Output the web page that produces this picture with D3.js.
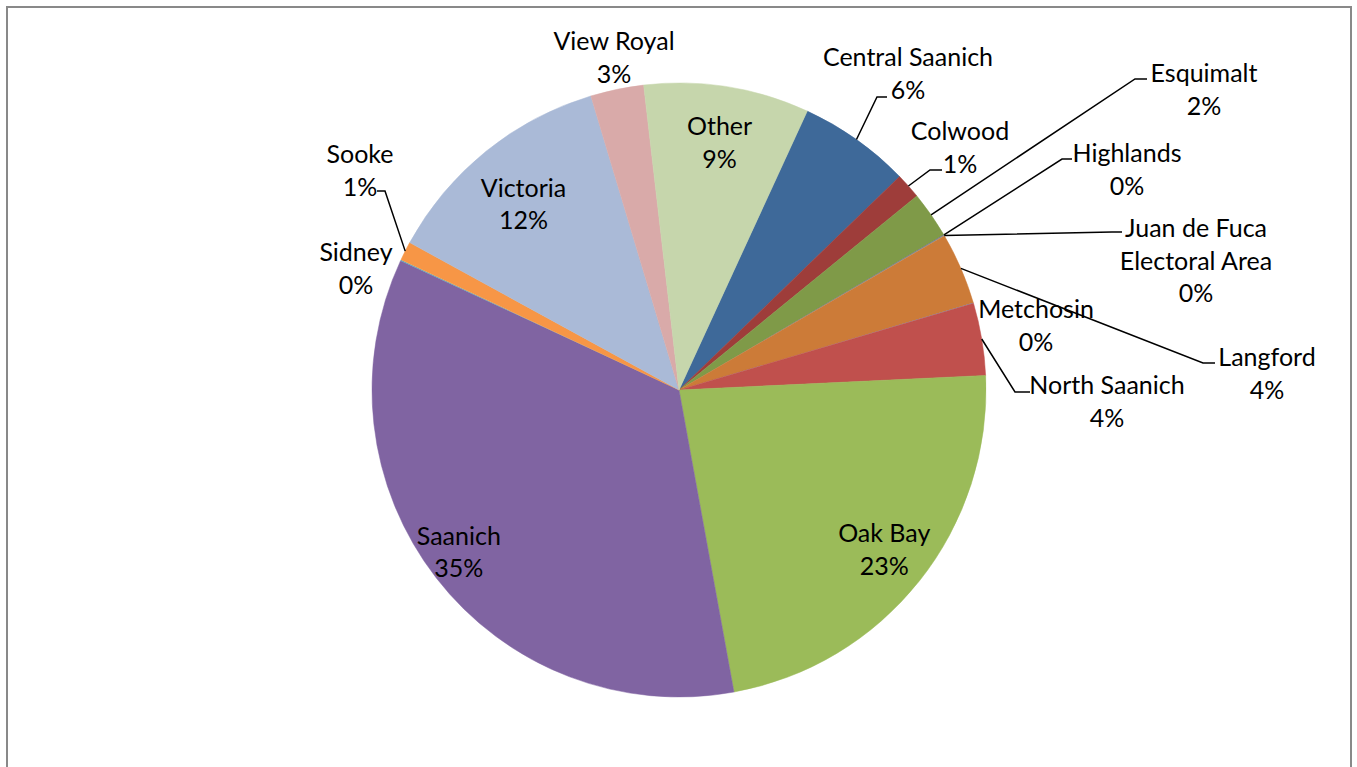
<!DOCTYPE html>
<html>
<head>
<meta charset="utf-8">
<script src="https://cdn.jsdelivr.net/npm/d3@7"></script>
<style>
  html, body { margin: 0; padding: 0; background: #ffffff; }
  svg { display: block; }
  text { font-family: Lato, "Open Sans", sans-serif; fill: #000; }
</style>
</head>
<body>
<svg id="chart" width="1357" height="767"></svg>
<script>
// ---- data (percent share per municipality) ----
const categories = ["Central Saanich", "Colwood", "Esquimalt", "Highlands", "Juan de Fuca Electoral Area",
  "Langford", "Metchosin", "North Saanich", "Oak Bay", "Saanich", "Sidney", "Sooke", "Victoria", "View Royal", "Other"];
const values = [5.9, 1.35, 2.45, 0.03, 0.03, 3.8, 0.03, 3.8, 22.9, 34.8, 0.05, 1.0, 12.4, 2.8, 8.7];
const colors = ["#3E6999", "#9E3D3A", "#7F9A48", "#684F87", "#3D8CA2", "#CC7B38", "#4F81BD", "#C0504D",
  "#9BBB59", "#8064A2", "#4BACC6", "#F79646", "#AABAD7", "#D9AAA9", "#C6D6AC"];
// label text lines
const labelLines = {
  "Juan de Fuca Electoral Area": ["Juan de Fuca", "Electoral Area"]
};

// ---- layout ----
const W = 1357, H = 767;
const cx = 679, cy = 390, R = 307;
const startDeg = 24.7;
const fontSize = 25, lineH = 32.5;
// inside labels: radius factor (+ nudge); outside labels: text position + leader line elbow/end
const layout = {
  "Other":            { inside: 0.82, dx: 1, dy: 0 },
  "Victoria":         { inside: 0.80, dx: -1, dy: 4 },
  "Oak Bay":          { inside: 0.85, dx: 1, dy: -4 },
  "Saanich":          { inside: 0.89, dx: -4, dy: -6 },
  "Central Saanich":  { x: 908,  y: 56,  elbow: [877, 97],   end: [887, 97] },
  "Colwood":          { x: 960,  y: 130, elbow: [930, 170],  end: [942, 170] },
  "Esquimalt":        { x: 1204, y: 72,  elbow: [1135, 79],  end: [1147, 79] },
  "Highlands":        { x: 1127, y: 152, elbow: [1062, 159], end: [1072, 159] },
  "Juan de Fuca Electoral Area": { x: 1196, y: 227, elbow: [1112, 232], end: [1122, 232] },
  "Metchosin":        { x: 1036, y: 308 },
  "Langford":         { x: 1267, y: 356, elbow: [1203, 363], end: [1215, 363] },
  "North Saanich":    { x: 1107, y: 384, elbow: [1015, 392], end: [1030, 392] },
  "Sidney":           { x: 356,  y: 251 },
  "Sooke":            { x: 360,  y: 153, elbow: [385, 191],  end: [377, 191] },
  "View Royal":       { x: 614,  y: 40 }
};

const svg = d3.select("#chart");

// chart area frame
svg.append("rect")
  .attr("x", 7).attr("y", 7).attr("width", 1344).attr("height", 820)
  .attr("fill", "#ffffff").attr("stroke", "#898989").attr("stroke-width", 2);

const data = categories.map((c, i) => ({ name: c, value: values[i], color: colors[i] }));
const total = d3.sum(values);
const start = startDeg * Math.PI / 180;

const pie = d3.pie().sort(null).value(d => d.value)
  .startAngle(start).endAngle(start + 2 * Math.PI);
const arcs = pie(data);

const arc = d3.arc().innerRadius(0).outerRadius(R);
const g = svg.append("g").attr("transform", `translate(${cx},${cy})`);

g.selectAll("path.slice").data(arcs).enter().append("path")
  .attr("class", "slice")
  .attr("d", arc)
  .attr("fill", d => d.data.color)
  .attr("stroke", d => d.data.color)
  .attr("stroke-width", d => (d.endAngle - d.startAngle) < 0.01 ? 0 : 0.5);

const pct = d => Math.round(d.data.value / total * 100) + "%";

function linesFor(d) {
  const nameLines = labelLines[d.data.name] || [d.data.name];
  return nameLines.concat([pct(d)]);
}

// labels
arcs.forEach(d => {
  const L = layout[d.data.name];
  const lines = linesFor(d);
  let tx, ty;
  if (L.inside !== undefined) {
    const a = d3.arc().innerRadius(R * L.inside).outerRadius(R * L.inside);
    const c = a.centroid(d);
    tx = cx + c[0] + (L.dx || 0);
    ty = cy + c[1] + (L.dy || 0) - (lines.length - 1) * lineH / 2;
  } else {
    tx = L.x; ty = L.y;
    if (L.elbow) {
      const mid = (d.startAngle + d.endAngle) / 2;
      const p0 = [cx + R * Math.sin(mid), cy - R * Math.cos(mid)];
      svg.append("polyline")
        .attr("points", [p0, L.elbow, L.end].map(p => p.join(",")).join(" "))
        .attr("fill", "none").attr("stroke", "#000").attr("stroke-width", 1.5);
    }
  }
  const t = svg.append("text")
    .attr("text-anchor", "middle")
    .attr("font-size", fontSize);
  lines.forEach((ln, i) => {
    t.append("tspan").attr("x", tx).attr("y", ty + i * lineH)
      .attr("dominant-baseline", "central").text(ln);
  });
});
</script>
</body>
</html>
